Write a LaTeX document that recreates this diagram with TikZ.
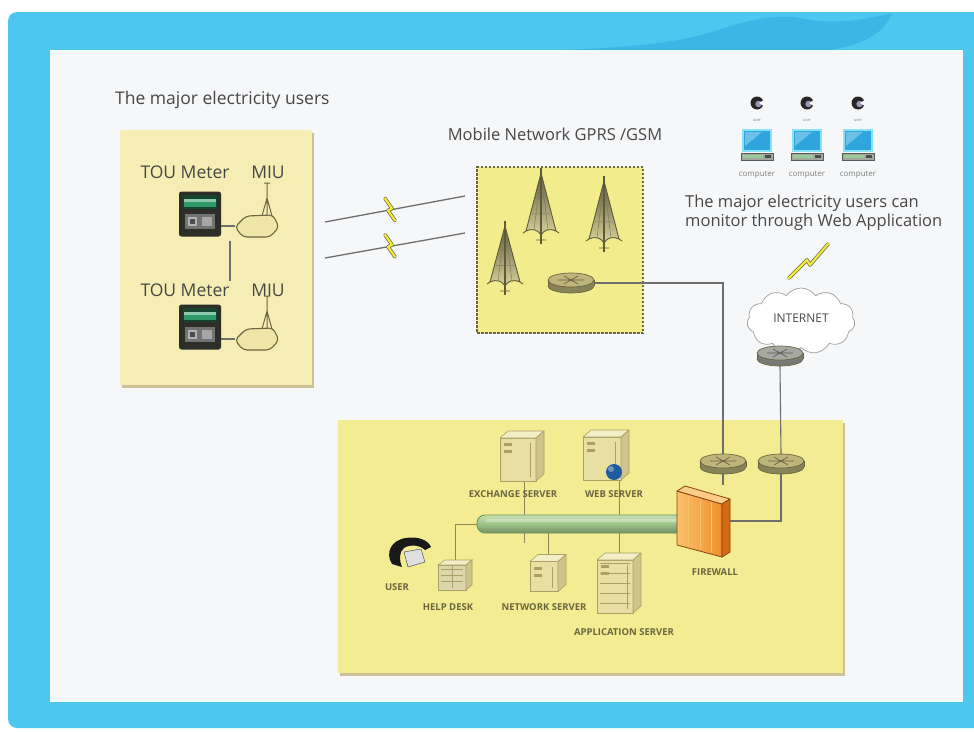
\documentclass[tikz,border=0pt]{standalone}
\usepackage{fontspec}
\setmainfont{Open Sans}
\usetikzlibrary{shapes.symbols,shapes.geometric,calc,shadows}

\pgfdeclarelayer{backdrop}
\pgfdeclarelayer{wires}
\pgfsetlayers{backdrop,wires,main}

\definecolor{frameblue}{HTML}{4DC6F0}
\definecolor{framewave}{HTML}{3DB6E6}
\definecolor{panel}{HTML}{F6F7F9}
\definecolor{sitepale}{HTML}{F6EDB4}
\definecolor{siteyellow}{HTML}{F3EC92}
\definecolor{gsmyellow}{HTML}{F3EC8C}
\definecolor{boxshadow}{HTML}{CDBF98}
\definecolor{inkgray}{HTML}{474747}
\definecolor{olive}{HTML}{6B6640}
\definecolor{oliveline}{HTML}{8C8658}
\definecolor{linkgray}{HTML}{6E6E6E}
\definecolor{routerolive}{HTML}{BDB57A}
\definecolor{routergray}{HTML}{A8A8A2}
\definecolor{meterbody}{HTML}{2D2E27}
\definecolor{metergreen}{HTML}{2F9A68}
\definecolor{miufill}{HTML}{EFE6A6}
\definecolor{towerdark}{HTML}{5E5A3A}
\definecolor{towerlight}{HTML}{D8D19A}
\definecolor{boltyellow}{HTML}{F2EA3A}
\definecolor{srvfront}{HTML}{E8DFA2}
\definecolor{srvtop}{HTML}{F4EEC6}
\definecolor{srvside}{HTML}{CFC489}
\definecolor{srvline}{HTML}{ABA066}
\definecolor{busgreen}{HTML}{9DC286}
\definecolor{buslight}{HTML}{C8E0B4}
\definecolor{busdark}{HTML}{6E9356}
\definecolor{fwfront}{HTML}{F0902C}
\definecolor{fwlight}{HTML}{FBC06A}
\definecolor{fwside}{HTML}{D46A18}
\definecolor{fwedge}{HTML}{8A4412}
\definecolor{screenblue}{HTML}{2EA6DD}
\definecolor{screenedge}{HTML}{86E2F4}
\definecolor{kbgray}{HTML}{A3A89E}
\definecolor{globeblue}{HTML}{1E5C9E}
\definecolor{headviolet}{HTML}{9A98B8}

\tikzset{
  heading/.style={text=inkgray, font=\fontsize{16.5}{19}\selectfont, inner sep=0pt},
  devname/.style={text=inkgray, font=\fontsize{17.5}{20}\selectfont, inner sep=0pt},
  tag/.style={text=olive, font=\bfseries\fontsize{9.5}{11}\selectfont, inner sep=0pt},
  tinytag/.style={text=gray, font=\fontsize{8}{9}\selectfont, inner sep=0pt},
  holder/.style={inner sep=0pt, outer sep=0pt, draw=none},
  sitebox/.style={inner sep=0pt, draw=none, fill=#1,
    drop shadow={shadow xshift=2pt, shadow yshift=-3pt, fill=boxshadow, opacity=1}},
  radiolink/.style={draw=linkgray, line width=1.3},
  wanlink/.style={draw=linkgray, line width=1.1},
  lanlink/.style={draw=oliveline, line width=0.8},
  boltedge/.style={draw=olive, line width=3.6, line join=round, line cap=round},
  boltcore/.style={draw=boltyellow, line width=2.2, line join=round, line cap=round},
}

% time-of-use meter: dark case, green display
\newcommand\meterunit[3]{%
  \node[holder, minimum width=42pt, minimum height=45pt] (#1) at (#2,#3) {};
  \begin{scope}[shift={(#2,#3)}]
    \fill[meterbody, rounded corners=2.5pt] (-21,-22.5) rectangle (21,22.5);
    \fill[metergreen!45!black] (-17,-19) rectangle (17,-5);
    \fill[metergreen] (-16,-15) rectangle (16,-7);
    \fill[metergreen!55!white] (-16,-15) rectangle (16,-12.5);
    \fill[black!55] (-15,0) rectangle (15,15);
    \fill[black!30] (-12,3) rectangle (-3,12);
    \fill[black!35] (2,3) rectangle (12,12);
    \fill[black!70] (-10,5) rectangle (-5,10);
  \end{scope}}

% meter interface unit with its antenna
\newcommand\miuunit[3]{%
  \node[holder, minimum width=44pt, minimum height=24pt] (#1) at (#2,#3) {};
  \begin{scope}[shift={(#2,#3)}]
    \draw[olive, line width=1] (10,-10) -- (10,-43) (7,-43) -- (13,-43)
      (5,-10) -- (10,-28) -- (15,-10);
    \filldraw[fill=miufill, draw=olive, line width=1.1, rounded corners=4pt]
      (-22,1) -- (-11,-10) -- (16,-11) -- (22,1) -- (13,11) -- (-14,11) -- cycle;
  \end{scope}}

% lattice radio tower: name, x, top y, height
\newcommand\towerunit[4]{%
  \node[holder, minimum width=34pt, minimum height=#4pt, anchor=north] (#1) at (#2,#3) {};
  \begin{scope}[shift={(#2,#3)}]
    \shadedraw[top color=towerdark, bottom color=towerlight, draw=towerdark,
      line width=0.9, line join=round]
      (0,0) -- (15,{#4-8}) .. controls (8,{#4-11}) and (3,{#4-9}) .. (0,{#4-4})
      .. controls (-3,{#4-9}) and (-8,{#4-11}) .. (-15,{#4-8}) -- cycle;
    \draw[towerdark!80, line width=0.5] (0,0) -- (-7,{#4-9}) (0,0) -- (7,{#4-9})
      (-9,{0.62*#4}) -- (9,{0.62*#4}) (-5,{0.36*#4}) -- (5,{0.36*#4});
    \draw[towerdark, line width=1.3] (0,-5) -- (0,{#4+5});
    \draw[towerdark, line width=0.9] (-15,{#4-8}) -- (-18,{#4-6}) (15,{#4-8}) -- (18,{#4-6})
      (-5,{#4+1}) -- (5,{#4+1});
  \end{scope}}

% router drawn as a flat disc: name, x, y, colour
\newcommand\routerunit[4]{%
  \node[holder, minimum width=46pt, minimum height=20pt] (#1) at (#2,#3) {};
  \begin{scope}[shift={(#2,#3)}]
    \filldraw[fill=#4!72!black, draw=olive, line width=0.7] (0,3) ellipse [x radius=23pt, y radius=7pt];
    \fill[#4!72!black] (-23,-3) rectangle (23,3);
    \draw[olive, line width=0.7] (-23,-3) -- (-23,3) (23,-3) -- (23,3);
    \filldraw[fill=#4, draw=olive, line width=0.7] (0,-3) ellipse [x radius=23pt, y radius=7pt];
    \draw[#4!55!black, line width=0.7] (-13,-3) -- (13,-3) (-7,-7) -- (7,1) (-7,1) -- (7,-7);
  \end{scope}}

% web user with a desktop computer: name, x
\newcommand\pcunit[2]{%
  \node[holder, minimum width=30pt, minimum height=22pt] (#1) at (#2,141) {};
  \begin{scope}[shift={(#2,0)}]
    \fill[black!85] (0,103) circle [radius=6.5pt];
    \fill[headviolet] (1.5,104) circle [radius=3.2pt];
    \fill[panel] (2,103) -- (9,98.5) -- (9,107.5) -- cycle;
    \node[text=gray, font=\fontsize{4}{5}\selectfont, inner sep=0pt] at (0,120) {user};
    \filldraw[fill=screenblue, draw=screenedge, line width=1.1] (-14,130) rectangle (14,151);
    \fill[white, opacity=0.3] (-12,132) -- (5,132) -- (-12,146) -- cycle;
    \filldraw[fill=kbgray, draw=gray!70!black, line width=0.5] (-16,153) rectangle (16,160);
    \fill[green!35!gray!60] (-14,155) rectangle (6,158);
    \fill[black!70] (8,155) rectangle (14,158);
    \node[tinytag] at (0,175) {computer};
  \end{scope}}

% beige server cabinet: name, cx, cy, width, height
\newcommand\serverunit[5]{%
  \node[holder, minimum width=#4pt, minimum height=#5pt] (#1) at (#2,#3) {};
  \begin{scope}[shift={(#2,#3)}]
    \filldraw[fill=srvfront, draw=srvline, line width=0.6, line join=round]
      ({-#4/2},{-#5/2+7}) rectangle ({#4/2-8},{#5/2});
    \filldraw[fill=srvtop, draw=srvline, line width=0.6, line join=round]
      ({-#4/2},{-#5/2+7}) -- ({-#4/2+8},{-#5/2}) -- ({#4/2},{-#5/2}) -- ({#4/2-8},{-#5/2+7}) -- cycle;
    \filldraw[fill=srvside, draw=srvline, line width=0.6, line join=round]
      ({#4/2-8},{-#5/2+7}) -- ({#4/2},{-#5/2}) -- ({#4/2},{#5/2-7}) -- ({#4/2-8},{#5/2}) -- cycle;
    \fill[srvline] ({-#4/2+4},{-#5/2+12}) rectangle ({-#4/2+12},{-#5/2+15});
    \fill[srvline] ({-#4/2+4},{-#5/2+19}) rectangle ({-#4/2+12},{-#5/2+22});
    \draw[srvline, line width=0.8] ({#4/2-14},{-#5/2+12}) -- ({#4/2-14},{#5/2-4});
  \end{scope}}

\begin{document}
\begin{tikzpicture}[x=1pt, y=-1pt]
\useasboundingbox (0,0) rectangle (974,731);

\begin{pgfonlayer}{backdrop}
% frame and panel
\fill[white] (0,0) rectangle (974,731);
\fill[frameblue] (974,12) [rounded corners=9pt] -- (8,12) -- (8,728) [sharp corners] -- (974,728) -- cycle;
\fill[framewave] (560,50) .. controls (640,47) and (680,42) .. (715,31)
  .. controls (748,20) and (776,13) .. (806,19) .. controls (832,24) and (862,21) .. (892,13)
  .. controls (885,33) and (862,45) .. (830,50) -- cycle;
\fill[panel] (50,50) rectangle (963,702);

% site and data-centre areas
\node[sitebox=sitepale, minimum width=192pt, minimum height=255pt] (site) at (216,257.5) {};
\node[inner sep=0pt, fill=gsmyellow, draw=olive, line width=1.3, dash pattern=on 2.5pt off 1.5pt,
  minimum width=166pt, minimum height=166pt] (gsm) at (560,250) {};
\node[sitebox=siteyellow, minimum width=505pt, minimum height=253pt] (centre) at (590.5,546.5) {};
\end{pgfonlayer}

% headings
\node[heading, font=\fontsize{17.5}{20}\selectfont, anchor=west] (t1) at (115,100) {The major electricity users};
\node[heading] (t2) at (555,134) {Mobile Network GPRS /GSM};
\node[heading, anchor=west] (t3) at (685,203) {The major electricity users can};
\node[heading, anchor=west] (t4) at (685,222) {monitor through Web Application};

% metering points
\node[devname] (l1) at (185,172) {TOU Meter};
\node[devname] (l2) at (268,172) {MIU};
\node[devname] (l3) at (185,290) {TOU Meter};
\node[devname] (l4) at (268,290) {MIU};
\meterunit{m1}{200}{214}
\meterunit{m2}{200}{327}
\miuunit{u1}{257}{226}
\miuunit{u2}{257}{339}
\draw[radiolink] (m1.east |- u1.west) -- (u1.west);
\draw[radiolink] (m2.east |- u2.west) -- (u2.west);
\coordinate (chainA) at (230,241);
\coordinate (chainB) at (230,281);
\draw[radiolink] (chainA) -- (chainB);

% radio links to the GSM network
\coordinate (ua) at (325,222);
\coordinate (ga) at (465,196);
\coordinate (ub) at (325,258);
\coordinate (gb) at (465,233);
\draw[radiolink] (ua) -- (ga);
\draw[radiolink] (ub) -- (gb);
\foreach \cx/\cy in {390/209.5, 390/245.8} {
  \draw[boltedge] (\cx-5,\cy-11) -- (\cx+2,\cy-1) -- (\cx-2,\cy+1) -- (\cx+5,\cy+11);
  \draw[boltcore] (\cx-5,\cy-11) -- (\cx+2,\cy-1) -- (\cx-2,\cy+1) -- (\cx+5,\cy+11);
}

% GSM towers
\towerunit{tw1}{541}{173}{66}
\towerunit{tw2}{604}{181}{66}
\towerunit{tw3}{505}{226}{64}

% web users
\pcunit{pc1}{757}
\pcunit{pc2}{807}
\pcunit{pc3}{858}

% internet
\draw[boltedge] (789,278) -- (807,260) -- (810,265) -- (828,244);
\draw[boltcore] (789,278) -- (807,260) -- (810,265) -- (828,244);
\node[cloud, cloud puffs=11, cloud puff arc=110, aspect=1.7, draw=gray!75, fill=white,
  line width=0.7, minimum width=108pt, minimum height=66pt, inner sep=0pt] (inet) at (801,321) {};
\node[text=inkgray, font=\fontsize{12}{14}\selectfont, inner sep=0pt] (inetlbl) at (801,318) {INTERNET};

% servers
\serverunit{exch}{522}{456}{44}{50}
\serverunit{web}{606}{455}{46}{50}
\serverunit{net}{548}{573}{36}{37}
\serverunit{app}{619}{583}{44}{60}
\foreach \dy in {563,573,583,593,603} \draw[srvline, line width=0.6] (600,\dy) -- (630,\dy);
\fill[globeblue] (614,472) circle [radius=8pt];
\fill[white, opacity=0.35] (611,469) circle [radius=3pt];

% help desk
\node[holder, minimum width=35pt, minimum height=30pt] (hd) at (455,575) {};
\filldraw[fill=srvside!70!white, draw=srvline, line width=0.6] (438,565) rectangle (466,590);
\filldraw[fill=srvtop, draw=srvline, line width=0.6] (438,565) -- (445,560) -- (472,560) -- (466,565) -- cycle;
\filldraw[fill=srvside, draw=srvline, line width=0.6] (466,565) -- (472,560) -- (472,585) -- (466,590) -- cycle;
\foreach \gy in {569,575,581} \draw[srvline, line width=0.5] (441,\gy) -- (463,\gy);
\draw[srvline, line width=0.5] (452,566) -- (452,588);

% user
\node[holder, minimum width=42pt, minimum height=36pt] (usr) at (410,556) {};
\fill[black!90] (392,564) .. controls (385,553) and (391,540) .. (406,538)
  .. controls (418,536) and (428,540) .. (431,547) -- (425,550)
  .. controls (420,545) and (410,544) .. (404,548)
  .. controls (399,552) and (399,560) .. (402,567) -- cycle;
\filldraw[fill=black!12, draw=black!60, line width=0.6] (404,552) -- (421,549) -- (425,562) -- (408,567) -- cycle;

% backbone bus
\node[holder, minimum width=206pt, minimum height=18pt] (bus) at (580.5,524) {};
\shadedraw[top color=buslight, bottom color=busgreen!75!black, middle color=busgreen,
  draw=busdark, line width=0.9, rounded corners=8pt] (477,515) rectangle (684,533);
\fill[white, opacity=0.3, rounded corners=2pt] (485,519) rectangle (680,522);

% routers and firewall
\routerunit{mr}{571}{283}{routerolive}
\routerunit{ra}{723}{464}{routerolive}
\routerunit{rb}{781}{464}{routerolive}
\routerunit{ir}{780}{356}{routergray}
\node[holder, minimum width=54pt, minimum height=72pt] (fw) at (703,521) {};
\shadedraw[left color=fwlight, right color=fwfront, draw=fwedge, line width=0.8, line join=round]
  (677,491) -- (722,504) -- (722,557) -- (677,545) -- cycle;
\filldraw[fill=fwlight!80!white, draw=fwedge, line width=0.8, line join=round]
  (677,491) -- (685,486) -- (730,499) -- (722,504) -- cycle;
\filldraw[fill=fwside, draw=fwedge, line width=0.8, line join=round]
  (722,504) -- (730,499) -- (730,552) -- (722,557) -- cycle;
\draw[fwlight, line width=0.7] (688,496) -- (688,546) (700,499) -- (700,549) (711,502) -- (711,552);

% wiring, kept beneath the devices
\begin{pgfonlayer}{wires}
\draw[wanlink] (mr.east) -| (ra.north);
\draw[wanlink] (ir.south) -- (rb.north);
\draw[wanlink] (ra.south) -- (ra.south |- fw.north);
\draw[wanlink] (rb.south) |- (fw.east);
\coordinate (exchtail) at (524,543);
\draw[lanlink] (exch.south -| exchtail) -- (exchtail);
\draw[lanlink] (app.north |- web.south) -- (app.north |- bus.north);
\draw[lanlink] (net.north |- bus.south) -- (net.north);
\draw[lanlink] (app.north |- bus.south) -- (app.north);
\draw[lanlink] (bus.west) -| (hd.north);
\end{pgfonlayer}

% device tags
\node[tag] (tg1) at (513,494) {EXCHANGE SERVER};
\node[tag] (tg2) at (614,494) {WEB SERVER};
\node[tag] (tg3) at (397,587) {USER};
\node[tag] (tg4) at (448,607) {HELP DESK};
\node[tag] (tg5) at (544,607) {NETWORK SERVER};
\node[tag] (tg6) at (624,632) {APPLICATION SERVER};
\node[tag] (tg7) at (715,572) {FIREWALL};
\end{tikzpicture}
\end{document}
